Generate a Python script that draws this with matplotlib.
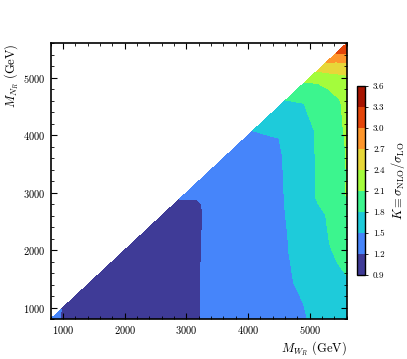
import numpy as np
import matplotlib
matplotlib.use("Agg")
import matplotlib.pyplot as plt
import matplotlib.tri as mtri
from matplotlib.ticker import MultipleLocator

plt.rcParams['font.family'] = 'serif'
plt.rcParams['font.serif'] = ['cmr10']
plt.rcParams['mathtext.fontset'] = 'cm'
plt.rcParams['axes.formatter.use_mathtext'] = True

# mass grid (GeV), same points for M_WR (columns) and M_NR (rows)
masses = [800, 2000, 2800, 2950, 3400, 3950, 4100, 4550, 4900, 5100, 5300, 5450, 5600]
nan = np.nan
# K factor, row = M_NR, column = M_WR (nan where M_NR > M_WR)
k_800  = [1.23, 1.00, 1.05, 1.08, 1.27, 1.34, 1.36, 1.42, 1.48, 1.55, 1.62, 1.67, 1.70]
k_2000 = [nan, 1.02, 1.06, 1.09, 1.26, 1.36, 1.38, 1.47, 1.57, 1.66, 1.78, 1.83, 1.86]
k_2800 = [nan, nan, 1.10, 1.10, 1.25, 1.38, 1.40, 1.49, 1.58, 1.79, 1.84, 1.92, 2.00]
k_2950 = [nan, nan, nan, 1.28, 1.30, 1.39, 1.41, 1.49, 1.59, 1.805, 1.86, 1.94, 2.12]
k_3400 = [nan, nan, nan, nan, 1.31, 1.40, 1.42, 1.495, 1.60, 1.81, 1.87, 1.98, 2.11]
k_3950 = [nan, nan, nan, nan, nan, 1.45, 1.46, 1.505, 1.62, 1.82, 1.90, 2.00, 2.13]
k_4100 = [nan, nan, nan, nan, nan, nan, 1.51, 1.56, 1.65, 1.83, 1.92, 2.02, 2.15]
k_4550 = [nan, nan, nan, nan, nan, nan, nan, 1.74, 1.795, 1.86, 1.97, 2.05, 2.18]
k_4900 = [nan, nan, nan, nan, nan, nan, nan, nan, 2.08, 2.09, 2.15, 2.20, 2.28]
k_5100 = [nan, nan, nan, nan, nan, nan, nan, nan, nan, 2.38, 2.42, 2.44, 2.46]
k_5300 = [nan, nan, nan, nan, nan, nan, nan, nan, nan, nan, 2.75, 2.74, 2.76]
k_5450 = [nan, nan, nan, nan, nan, nan, nan, nan, nan, nan, nan, 3.05, 3.05]
k_5600 = [nan, nan, nan, nan, nan, nan, nan, nan, nan, nan, nan, nan, 3.25]
k_table = np.array([k_800, k_2000, k_2800, k_2950, k_3400, k_3950, k_4100,
                    k_4550, k_4900, k_5100, k_5300, k_5450, k_5600])

levels = [0.9, 1.2, 1.5, 1.8, 2.1, 2.4, 2.7, 3.0, 3.3, 3.6]

W, N = np.meshgrid(masses, masses)
ok = np.isfinite(k_table)
tri = mtri.Triangulation(W[ok], N[ok])

fig = plt.figure(figsize=(4.07, 3.59), dpi=100)
ax = fig.add_axes([0.1246, 0.1114, 0.7274, 0.7680])
cs = ax.tricontourf(tri, k_table[ok], levels=levels, cmap='turbo')

ax.set_xlim(800, 5600)
ax.set_ylim(800, 5600)
ax.xaxis.set_major_locator(MultipleLocator(1000))
ax.yaxis.set_major_locator(MultipleLocator(1000))
ax.xaxis.set_minor_locator(MultipleLocator(200))
ax.yaxis.set_minor_locator(MultipleLocator(200))
ax.tick_params(which='both', direction='in', top=True, right=True, labelsize=7.5)
ax.tick_params(which='major', length=4, width=0.8)
ax.tick_params(which='minor', length=2, width=0.6)
for s in ax.spines.values():
    s.set_linewidth(1.2)

ax.set_xlabel(r'$M_{W_R}$ (GeV)', fontsize=9, loc='right', labelpad=3)
ax.set_ylabel(r'$M_{N_R}$ (GeV)', fontsize=9, loc='top', labelpad=2)

cax = fig.add_axes([0.876, 0.234, 0.022, 0.526])
cb = fig.colorbar(cs, cax=cax, ticks=levels)
cb.ax.set_yticklabels(['%.1f' % v for v in levels])
cb.ax.tick_params(labelsize=6.5, length=2, width=0.6)
cb.outline.set_linewidth(1.0)
cb.set_label(r'$K \equiv \sigma_{\rm NLO}/\sigma_{\rm LO}$', fontsize=9, labelpad=3)

fig.savefig('out.png', dpi=100)
